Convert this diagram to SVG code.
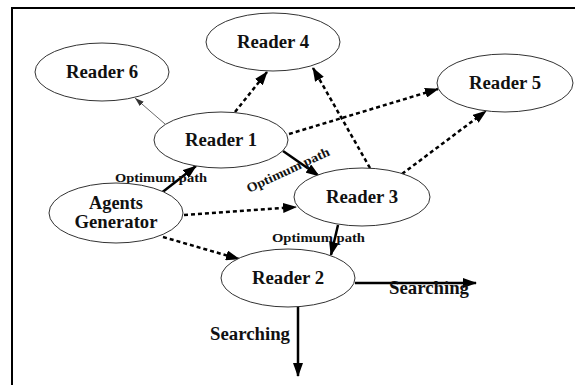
<svg xmlns="http://www.w3.org/2000/svg" width="575" height="385" viewBox="0 0 575 385">
<style>
.node ellipse{fill:#fff;stroke:#333;stroke-width:1}
.node text{font-family:"Liberation Serif","Times New Roman",serif;font-weight:bold;font-size:18px;fill:#111;text-anchor:middle}
.lbl{font-family:"Liberation Serif","Times New Roman",serif;font-weight:bold;fill:#111}
.e{fill:none;stroke:#000}
.solid{stroke-width:2.5}
.dash{stroke-width:2.5;stroke-dasharray:4 3}
.thin{stroke-width:0.8;stroke:#444}
</style>
<defs>
<marker id="ah" markerUnits="userSpaceOnUse" markerWidth="14" markerHeight="10" refX="13" refY="5" orient="auto">
<path d="M0,0 L14,5 L0,10 Z" fill="#000"/>
</marker>
<marker id="ahs" markerUnits="userSpaceOnUse" markerWidth="9" markerHeight="6" refX="9" refY="3" orient="auto">
<path d="M0,0 L9,3 L0,6 Z" fill="#333"/>
</marker>
</defs>
<rect width="575" height="385" fill="#fff"/>
<path d="M12,385 L12,8 L575,8" fill="none" stroke="#000" stroke-width="2"/>
<g id="connectors">
<line class="e thin" x1="165" y1="124" x2="135" y2="98" marker-end="url(#ahs)"/>
<line class="e dash" x1="235" y1="112" x2="267" y2="72" marker-end="url(#ah)"/>
<line class="e dash" x1="289" y1="134" x2="438" y2="89" marker-end="url(#ah)"/>
<line class="e dash" x1="370" y1="168" x2="313" y2="68" marker-end="url(#ah)"/>
<line class="e dash" x1="402" y1="174" x2="486" y2="111" marker-end="url(#ah)"/>
<line class="e solid" x1="283" y1="151" x2="319" y2="176" marker-end="url(#ah)"/>
<line class="e solid" x1="160" y1="194" x2="196" y2="166" marker-end="url(#ah)"/>
<line class="e dash" x1="184" y1="215" x2="296" y2="207" marker-end="url(#ah)"/>
<line class="e dash" x1="163" y1="237" x2="239" y2="259" marker-end="url(#ah)"/>
<line class="e solid" x1="338" y1="225" x2="331" y2="255" marker-end="url(#ah)"/>
<line class="e solid" x1="355" y1="283" x2="476" y2="283" marker-end="url(#ah)"/>
<line class="e solid" x1="298" y1="307" x2="298" y2="376" marker-end="url(#ah)"/>
<text class="lbl" x="115" y="182" font-size="13" textLength="92" lengthAdjust="spacingAndGlyphs">Optimum path</text>
<text class="lbl" font-size="13" textLength="90" lengthAdjust="spacingAndGlyphs" transform="translate(249,193) rotate(-25)">Optimum path</text>
<text class="lbl" x="272" y="242" font-size="13" textLength="93" lengthAdjust="spacingAndGlyphs">Optimum path</text>
<text class="lbl" x="389" y="294" font-size="18" textLength="80" lengthAdjust="spacingAndGlyphs">Searching</text>
<text class="lbl" x="210" y="340" font-size="18" textLength="80" lengthAdjust="spacingAndGlyphs">Searching</text>
</g>
<g id="reader6" class="node"><ellipse cx="102" cy="72" rx="67" ry="29"/><text x="102" y="78" textLength="72" lengthAdjust="spacingAndGlyphs">Reader 6</text></g>
<g id="reader4" class="node"><ellipse cx="273" cy="42" rx="67" ry="29"/><text x="273" y="48" textLength="72" lengthAdjust="spacingAndGlyphs">Reader 4</text></g>
<g id="reader1" class="node"><ellipse cx="221" cy="140" rx="67" ry="28"/><text x="221" y="146" textLength="72" lengthAdjust="spacingAndGlyphs">Reader 1</text></g>
<g id="reader5" class="node"><ellipse cx="505" cy="83" rx="68" ry="29"/><text x="505" y="89" textLength="72" lengthAdjust="spacingAndGlyphs">Reader 5</text></g>
<g id="reader3" class="node"><ellipse cx="362" cy="197" rx="68" ry="29"/><text x="362" y="203" textLength="72" lengthAdjust="spacingAndGlyphs">Reader 3</text></g>
<g id="agents" class="node"><ellipse cx="116" cy="213" rx="67" ry="30"/><text x="116" y="209" font-size="16" textLength="54" lengthAdjust="spacingAndGlyphs">Agents</text><text x="116" y="228" font-size="16" textLength="83" lengthAdjust="spacingAndGlyphs">Generator</text></g>
<g id="reader2" class="node"><ellipse cx="288" cy="278" rx="67" ry="29"/><text x="288" y="284" textLength="72" lengthAdjust="spacingAndGlyphs">Reader 2</text></g>
</svg>
